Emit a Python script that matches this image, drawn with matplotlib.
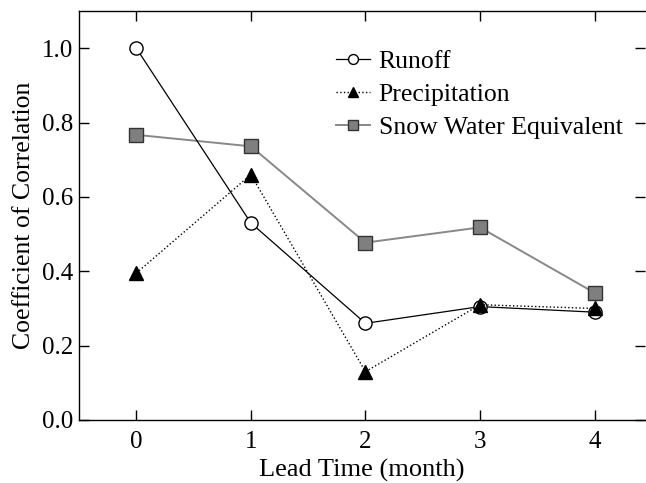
import matplotlib
matplotlib.use("Agg")
import matplotlib.pyplot as plt

lead = [0, 1, 2, 3, 4]
runoff = [1.0, 0.53, 0.26, 0.305, 0.29]
precip = [0.395, 0.66, 0.13, 0.31, 0.30]
swe = [0.767, 0.736, 0.477, 0.518, 0.342]
yticks = [0.0, 0.2, 0.4, 0.6, 0.8, 1.0]

plt.rcParams['font.family'] = ['Liberation Serif', 'DejaVu Serif']

fig = plt.figure(figsize=(6.46, 4.83), dpi=100)
ax = fig.add_axes([79/646, 1-420/483, 566/646, 409/483])

ax.plot(lead, runoff, '-', color='black', lw=0.9, marker='o', ms=9.5,
        mfc='white', mec='black', mew=1.0, label='Runoff', zorder=3)
ax.plot(lead, precip, ':', color='black', lw=1.0, marker='^', ms=10,
        mfc='black', mec='black', label='Precipitation', zorder=4)
ax.plot(lead, swe, '-', color='#888888', lw=1.4, marker='s', ms=9.5,
        mfc='#7f7f7f', mec='#333333', mew=1.0, label='Snow Water Equivalent', zorder=2)

ax.set_xlim(-0.5, 4.44)
ax.set_ylim(0, 1.1)
ax.set_xticks(lead)
ax.set_yticks(yticks)
ax.set_yticklabels([f"{v:.1f}" for v in yticks])
ax.tick_params(direction='in', length=7, width=1, labelsize=18, top=True, right=True)
ax.tick_params(axis='x', pad=8)
ax.tick_params(axis='y', pad=4)
ax.spines['right'].set_visible(False)
for s in ['left', 'top', 'bottom']:
    ax.spines[s].set_linewidth(1.0)

ax.set_xlabel('Lead Time (month)', fontsize=19, labelpad=4)
ax.set_ylabel('Coefficient of Correlation', fontsize=18.5, labelpad=5)

leg = ax.legend(loc='upper right', bbox_to_anchor=(0.9876, 0.9427), frameon=False,
                fontsize=18.5, handlelength=1.3, handletextpad=0.35, labelspacing=0.39,
                markerscale=0.75, borderaxespad=0.2)

fig.savefig('out.png', dpi=100)
